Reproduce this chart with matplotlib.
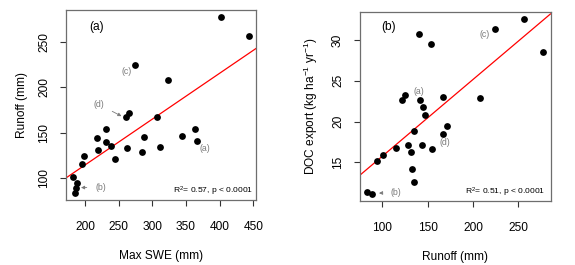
import numpy as np
import matplotlib
matplotlib.use("Agg")
import matplotlib.pyplot as plt

# -----------------------------------------------------------------------------
# Data (one entry per site)
# -----------------------------------------------------------------------------
swe = [401.7, 443.6, 275.0, 322.8, 265.0, 261.5, 307.4, 363.7, 344.0, 366.6,
       287.3, 231.0, 217.4, 231.6, 239.0, 219.1, 261.9, 311.8, 285.0, 244.4,
       199.0, 195.6, 182.2, 188.6, 187.0, 185.0]
runoff = [277.6, 256.6, 224.6, 208.0, 171.8, 167.0, 167.0, 154.5, 146.8, 141.3,
          145.3, 153.8, 143.8, 140.1, 135.3, 131.3, 133.2, 134.6, 128.7, 121.4,
          124.7, 115.5, 100.7, 94.8, 89.3, 83.4]
doc = [28.5, 32.6, 31.4, 22.9, 19.4, 18.5, 23.0, 16.6, 20.8, 22.6,
       21.8, 29.5, 17.1, 30.7, 18.9, 16.3, 14.2, 12.6, 17.1, 22.6,
       23.3, 16.8, 15.9, 15.1, 11.1, 11.4]

stats_a = "R$^2$= 0.57, p < 0.0001"
stats_b = "R$^2$= 0.51, p < 0.0001"

GREY = "#7a7a7a"
BOX = "#6e6e6e"


def style_axes(ax):
    for sp in ax.spines.values():
        sp.set_color(BOX)
        sp.set_linewidth(0.9)
    ax.tick_params(axis="both", which="both", direction="out", length=4.5,
                   width=0.8, color="#333333", labelsize=8.6, top=False, right=False)
    ax.tick_params(axis="x", pad=10.5)
    ax.tick_params(axis="y", pad=7, labelrotation=90)
    for lab in ax.get_yticklabels():
        lab.set_va("center")


def r_limits(ax, x, y):
    # R-style 4% range expansion
    for vals, setter in ((x, ax.set_xlim), (y, ax.set_ylim)):
        lo, hi = min(vals), max(vals)
        pad = 0.04 * (hi - lo)
        setter(lo - pad, hi + pad)


def fit_line(ax, x, y):
    slope, icept = np.polyfit(x, y, 1)
    xm = np.mean(x)
    ax.axline((xm, icept + slope * xm), slope=slope, color="red", lw=0.9, zorder=2)


def grey_arrow(ax, text, xy, xytext):
    ax.annotate(text, xy=xy, xytext=xytext, fontsize=6.3, color=GREY,
                ha="center", va="center",
                arrowprops=dict(arrowstyle="-|>", color=GREY, lw=0.6,
                                mutation_scale=5, shrinkA=4, shrinkB=1))


def main():
    plt.rcParams["font.family"] = ["Liberation Sans", "DejaVu Sans"]
    plt.rcParams["mathtext.default"] = "regular"

    fig = plt.figure(figsize=(5.75, 2.65), dpi=100)
    ax_a = fig.add_axes([66 / 575, 1 - 200 / 265, 190 / 575, 190 / 265])
    ax_b = fig.add_axes([360 / 575, 1 - 201 / 265, 190.5 / 575, 189 / 265])

    # -------------------------------------------------------------------------
    # (a) Runoff vs max SWE
    # -------------------------------------------------------------------------
    ax_a.scatter(swe, runoff, s=24, color="black", linewidths=0, zorder=3)
    r_limits(ax_a, swe, runoff)
    fit_line(ax_a, swe, runoff)
    ax_a.set_xticks([200, 250, 300, 350, 400, 450])
    ax_a.set_yticks([100, 150, 200, 250])
    style_axes(ax_a)
    ax_a.set_xlabel("Max SWE (mm)", fontsize=8.6, labelpad=12.5)
    ax_a.set_ylabel("Runoff (mm)", fontsize=8.6, labelpad=7.5)
    ax_a.text(0.16, 0.912, "(a)", transform=ax_a.transAxes, fontsize=8.6,
              ha="center", va="center")
    ax_a.text(0.984, 0.044, stats_a, transform=ax_a.transAxes, fontsize=6.1,
              ha="right", va="center")
    ax_a.text(262, 217, "(c)", fontsize=6.3, color=GREY, ha="center", va="center")
    ax_a.text(378, 132, "(a)", fontsize=6.3, color=GREY, ha="center", va="center")
    grey_arrow(ax_a, "(d)", (256, 167.5), (221, 181))
    grey_arrow(ax_a, "(b)", (192, 89.3), (223, 89.6))

    # -------------------------------------------------------------------------
    # (b) DOC export vs runoff
    # -------------------------------------------------------------------------
    ax_b.scatter(runoff, doc, s=24, color="black", linewidths=0, zorder=3)
    r_limits(ax_b, runoff, doc)
    fit_line(ax_b, runoff, doc)
    ax_b.set_xticks([100, 150, 200, 250])
    ax_b.set_yticks([15, 20, 25, 30])
    style_axes(ax_b)
    ax_b.set_xlabel("Runoff (mm)", fontsize=8.6, labelpad=12.5)
    ax_b.set_ylabel("DOC export (kg ha$^{-1}$ yr$^{-1}$)", fontsize=8.6, labelpad=9)
    ax_b.text(0.149, 0.922, "(b)", transform=ax_b.transAxes, fontsize=8.6,
              ha="center", va="center")
    ax_b.text(0.971, 0.046, stats_b, transform=ax_b.transAxes, fontsize=6.1,
              ha="right", va="center")
    ax_b.text(212.7, 30.7, "(c)", fontsize=6.3, color=GREY, ha="center", va="center")
    ax_b.text(140.2, 23.7, "(a)", fontsize=6.3, color=GREY, ha="center", va="center")
    ax_b.text(168.7, 17.4, "(d)", fontsize=6.3, color=GREY, ha="center", va="center")
    grey_arrow(ax_b, "(b)", (95, 11.2), (114.6, 11.3))

    fig.savefig("out.png", dpi=100)


if __name__ == "__main__":
    main()
